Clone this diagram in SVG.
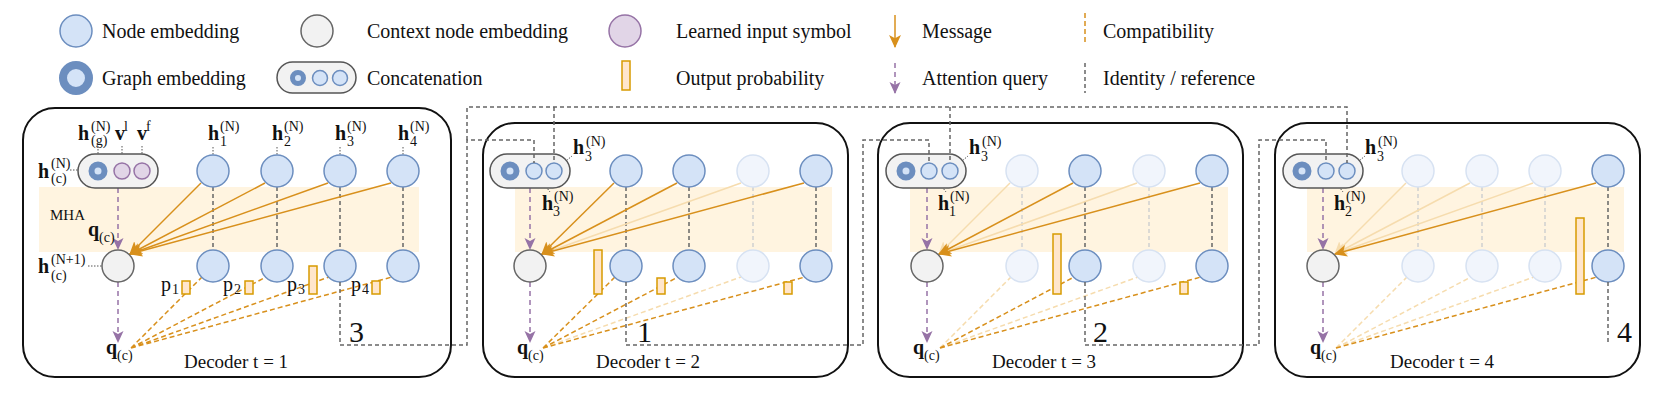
<svg xmlns="http://www.w3.org/2000/svg" width="1662" height="406" viewBox="0 0 1662 406">
<defs>
<style>
.t{font-family:"Liberation Serif","Times New Roman",serif;fill:#111}
.lg{font-size:20px}
.b{font-weight:bold;font-size:20px}
.s{font-size:14px}
.r{font-size:20px}
.dec{font-size:19px}
.big{font-size:30px}
.mha{font-size:15px}
.box{fill:#fff;stroke:#111;stroke-width:2}
.band{fill:#fff4e0}
.node{fill:#d4e3f7;stroke:#6c8ebf;stroke-width:1.5}
.fnode{fill:#f1f5fc;stroke:#d7e2f2;stroke-width:1.5}
.ctx{fill:#f2f2f2;stroke:#666;stroke-width:1.5}
.pill{fill:#f2f2f2;stroke:#555;stroke-width:1.5}
.ring{fill:#d4e3f7;stroke:#6c8ebf;stroke-width:6}
.sym{fill:#e1d5e7;stroke:#9673a6;stroke-width:1.5}
.bar{fill:#ffe6cc;stroke:#d79b00;stroke-width:1.5}
.msg{stroke:#d8901c;stroke-width:1.5;fill:none;marker-end:url(#mo)}
.fmsg{stroke:#f6dcae;stroke-width:1.5;fill:none;marker-end:url(#mof)}
.cmp{stroke:#d8901c;stroke-width:1.5;stroke-dasharray:5 3;fill:none}
.fcmp{stroke:#f6dcae;stroke-width:1.5;stroke-dasharray:5 3;fill:none}
.id{stroke:#666;stroke-width:1.5;stroke-dasharray:4 3;fill:none}
.fid{stroke:#cfcfcf;stroke-width:1.5;stroke-dasharray:4 3;fill:none}
.att{stroke:#9673a6;stroke-width:1.5;stroke-dasharray:5 4;fill:none;marker-end:url(#mp)}
.dot{stroke:#555;stroke-width:1;stroke-dasharray:1.5 1.5;fill:none}
</style>
<marker id="mo" viewBox="0 0 12 12" refX="11" refY="6" markerWidth="13" markerHeight="13" markerUnits="userSpaceOnUse" orient="auto"><path d="M0,0.5 L12,6 L0,11.5 L3,6 Z" fill="#d8901c"/></marker>
<marker id="mof" viewBox="0 0 12 12" refX="11" refY="6" markerWidth="13" markerHeight="13" markerUnits="userSpaceOnUse" orient="auto"><path d="M0,0.5 L12,6 L0,11.5 L3,6 Z" fill="#f6dcae"/></marker>
<marker id="mp" viewBox="0 0 12 12" refX="11" refY="6" markerWidth="12" markerHeight="12" markerUnits="userSpaceOnUse" orient="auto"><path d="M0,0.5 L12,6 L0,11.5 L3,6 Z" fill="#9673a6"/></marker>
</defs>
<rect width="1662" height="406" fill="#fff"/>

<g id="legend">
<g id="lg-node"><circle cx="76" cy="31" r="16" class="node"/><text x="102" y="38" class="t lg">Node embedding</text></g>
<g id="lg-graph"><circle cx="76" cy="78" r="13" fill="#d4e3f7" stroke="#6c8ebf" stroke-width="8"/><text x="102" y="85" class="t lg">Graph embedding</text></g>
<g id="lg-ctx"><circle cx="317" cy="31" r="16" class="ctx"/><text x="367" y="38" class="t lg">Context node embedding</text></g>
<g id="lg-concat"><rect x="277" y="62" width="79" height="31" rx="15.5" class="pill"/><circle cx="298" cy="78" r="5.5" fill="#d4e3f7" stroke="#6c8ebf" stroke-width="5"/><circle cx="320" cy="78" r="7.5" class="node"/><circle cx="340" cy="78" r="7.5" class="node"/><text x="367" y="85" class="t lg">Concatenation</text></g>
<g id="lg-sym"><circle cx="625" cy="31" r="16" class="sym"/><text x="676" y="38" class="t lg">Learned input symbol</text></g>
<g id="lg-prob"><rect x="622" y="61" width="8" height="29" class="bar"/><text x="676" y="85" class="t lg">Output probability</text></g>
<g id="lg-msg"><line x1="895" y1="15" x2="895" y2="47" class="msg"/><text x="922" y="38" class="t lg">Message</text></g>
<g id="lg-att"><line x1="895" y1="63" x2="895" y2="93" class="att"/><text x="922" y="85" class="t lg">Attention query</text></g>
<g id="lg-cmp"><line x1="1085" y1="13" x2="1085" y2="45" class="cmp" stroke-dasharray="4 3"/><text x="1103" y="38" class="t lg">Compatibility</text></g>
<g id="lg-id"><line x1="1085" y1="63" x2="1085" y2="93" class="id"/><text x="1103" y="85" class="t lg">Identity / reference</text></g>
</g>

<!-- ================= PANEL 1 ================= -->
<g id="panel1">
<rect x="23" y="108" width="428" height="269" rx="32" class="box"/>
<rect x="39" y="187" width="380" height="65" class="band"/>
<text x="50" y="220" class="t mha">MHA</text>
<g id="p1-connectors">
<path class="id" d="M213,187V250M277,187V250M340,187V250M403,187V250"/>
<path class="dot" d="M98,146V171M122,146V171M142,146V171M213,147V171M277,147V171M340,147V171M403,147V171M70,170H78M88,266H118"/>
<path class="cmp" d="M131,348L202,277M131,348L266,277M131,348L329,277M131,348L392,277"/>
<path class="msg" d="M201,183L130,254"/>
<path class="msg" d="M265,183L130,254"/>
<path class="msg" d="M328,183L130,254"/>
<path class="msg" d="M391,183L130,254"/>
<path class="att" d="M118,188V249"/>
<path class="att" d="M118,282V342"/>
</g>
<g id="p1-concat"><rect x="78" y="154" width="80" height="34" rx="17" class="pill"/><circle cx="98" cy="171" r="6.5" class="ring"/><circle cx="122" cy="171" r="8" class="sym"/><circle cx="142" cy="171" r="8" class="sym"/></g>
<g id="p1-n1"><circle cx="213" cy="171" r="16" class="node"/></g>
<g id="p1-n2"><circle cx="277" cy="171" r="16" class="node"/></g>
<g id="p1-n3"><circle cx="340" cy="171" r="16" class="node"/></g>
<g id="p1-n4"><circle cx="403" cy="171" r="16" class="node"/></g>
<g id="p1-ctx"><circle cx="118" cy="266" r="16" class="ctx"/></g>
<g id="p1-o1"><circle cx="213" cy="266" r="16" class="node"/></g>
<g id="p1-o2"><circle cx="277" cy="266" r="16" class="node"/></g>
<g id="p1-o3"><circle cx="340" cy="266" r="16" class="node"/></g>
<g id="p1-o4"><circle cx="403" cy="266" r="16" class="node"/></g>
<g id="p1-bars"><rect x="182" y="281" width="8" height="13" class="bar"/><rect x="245" y="281" width="8" height="13" class="bar"/><rect x="309" y="266" width="8" height="28" class="bar"/><rect x="372" y="281" width="8" height="13" class="bar"/></g>
<g id="p1-labels">
<text x="78" y="140" class="t b">h</text><text x="91" y="131" class="t s">(N)</text><text x="91" y="145" class="t s">(g)</text>
<text x="115" y="140" class="t b">v</text><text x="124" y="131" class="t s">l</text>
<text x="137" y="140" class="t b">v</text><text x="146" y="131" class="t s">f</text>
<text x="208" y="140" class="t b">h</text><text x="220" y="131" class="t s">(N)</text><text x="220" y="146" class="t s">1</text>
<text x="272" y="140" class="t b">h</text><text x="284" y="131" class="t s">(N)</text><text x="284" y="146" class="t s">2</text>
<text x="335" y="140" class="t b">h</text><text x="347" y="131" class="t s">(N)</text><text x="347" y="146" class="t s">3</text>
<text x="398" y="140" class="t b">h</text><text x="410" y="131" class="t s">(N)</text><text x="410" y="146" class="t s">4</text>
<text x="38" y="178" class="t b">h</text><text x="51" y="168" class="t s">(N)</text><text x="51" y="183" class="t s">(c)</text>
<text x="38" y="273" class="t b">h</text><text x="51" y="264" class="t s">(N+1)</text><text x="51" y="280" class="t s">(c)</text>
<text x="88" y="236" class="t b">q</text><text x="99" y="242" class="t s">(c)</text>
<text x="161" y="291" class="t r">p</text><text x="172" y="294" class="t s">1</text>
<text x="223" y="291" class="t r">p</text><text x="234" y="294" class="t s">2</text>
<text x="287" y="291" class="t r">p</text><text x="298" y="294" class="t s">3</text>
<text x="351" y="291" class="t r">p</text><text x="362" y="294" class="t s">4</text>
<text x="106" y="354" class="t b">q</text><text x="117" y="360" class="t s">(c)</text>
<text x="184" y="368" class="t dec">Decoder t = 1</text>
<text x="349" y="342" class="t big">3</text>
</g>
</g>

<!-- ================= PANEL 2 ================= -->
<g id="panel2">
<rect x="483" y="123" width="365" height="254" rx="32" class="box"/>
<rect x="515" y="187" width="317" height="65" class="band"/>
<g id="p2-connectors">
<path class="id" d="M626,187V250M689,187V250M816,187V250"/>
<path class="fid" d="M753,187V250"/>
<path class="dot" d="M555,170L572,156M535,172L550,192"/>
<path class="fcmp" d="M543,348L741,277"/>
<path class="cmp" d="M543,348L615,277M543,348L678,277M543,348L805,277"/>
<path class="fmsg" d="M741,183L542,254"/>
<path class="msg" d="M614,183L542,254"/>
<path class="msg" d="M677,183L542,254"/>
<path class="msg" d="M804,183L542,254"/>
<path class="att" d="M530,188V249"/>
<path class="att" d="M530,282V342"/>
</g>
<g id="p2-concat"><rect x="490" y="154" width="80" height="34" rx="17" class="pill"/><circle cx="510" cy="171" r="6.5" class="ring"/><circle cx="534" cy="171" r="8" class="node"/><circle cx="554" cy="171" r="8" class="node"/></g>
<g id="p2-n1"><circle cx="626" cy="171" r="16" class="node"/></g>
<g id="p2-n2"><circle cx="689" cy="171" r="16" class="node"/></g>
<g id="p2-n3"><circle cx="753" cy="171" r="16" class="fnode"/></g>
<g id="p2-n4"><circle cx="816" cy="171" r="16" class="node"/></g>
<g id="p2-ctx"><circle cx="530" cy="266" r="16" class="ctx"/></g>
<g id="p2-o1"><circle cx="626" cy="266" r="16" class="node"/></g>
<g id="p2-o2"><circle cx="689" cy="266" r="16" class="node"/></g>
<g id="p2-o3"><circle cx="753" cy="266" r="16" class="fnode"/></g>
<g id="p2-o4"><circle cx="816" cy="266" r="16" class="node"/></g>
<g id="p2-bars"><rect x="594" y="250" width="8" height="44" class="bar"/><rect x="657" y="278" width="8" height="16" class="bar"/><rect x="784" y="282" width="8" height="12" class="bar"/></g>
<g id="p2-labels">
<text x="573" y="154" class="t b">h</text><text x="586" y="146" class="t s">(N)</text><text x="585" y="161" class="t s">3</text>
<text x="542" y="210" class="t b">h</text><text x="554" y="201" class="t s">(N)</text><text x="553" y="216" class="t s">3</text>
<text x="517" y="354" class="t b">q</text><text x="528" y="360" class="t s">(c)</text>
<text x="596" y="368" class="t dec">Decoder t = 2</text>
<text x="637" y="342" class="t big">1</text>
</g>
</g>

<!-- ================= PANEL 3 ================= -->
<g id="panel3">
<rect x="878" y="123" width="365" height="254" rx="32" class="box"/>
<rect x="910" y="187" width="318" height="65" class="band"/>
<g id="p3-connectors">
<path class="id" d="M1085,187V250M1212,187V250"/>
<path class="fid" d="M1022,187V250M1149,187V250"/>
<path class="dot" d="M951,170L968,156M931,172L946,192"/>
<path class="fcmp" d="M940,348L1011,277M940,348L1138,277"/>
<path class="cmp" d="M940,348L1074,277M940,348L1201,277"/>
<path class="fmsg" d="M1010,183L939,254"/>
<path class="fmsg" d="M1137,183L939,254"/>
<path class="msg" d="M1073,183L939,254"/>
<path class="msg" d="M1200,183L939,254"/>
<path class="att" d="M927,188V249"/>
<path class="att" d="M927,282V342"/>
</g>
<g id="p3-concat"><rect x="886" y="154" width="80" height="34" rx="17" class="pill"/><circle cx="906" cy="171" r="6.5" class="ring"/><circle cx="929" cy="171" r="8" class="node"/><circle cx="950" cy="171" r="8" class="node"/></g>
<g id="p3-n1"><circle cx="1022" cy="171" r="16" class="fnode"/></g>
<g id="p3-n2"><circle cx="1085" cy="171" r="16" class="node"/></g>
<g id="p3-n3"><circle cx="1149" cy="171" r="16" class="fnode"/></g>
<g id="p3-n4"><circle cx="1212" cy="171" r="16" class="node"/></g>
<g id="p3-ctx"><circle cx="927" cy="266" r="16" class="ctx"/></g>
<g id="p3-o1"><circle cx="1022" cy="266" r="16" class="fnode"/></g>
<g id="p3-o2"><circle cx="1085" cy="266" r="16" class="node"/></g>
<g id="p3-o3"><circle cx="1149" cy="266" r="16" class="fnode"/></g>
<g id="p3-o4"><circle cx="1212" cy="266" r="16" class="node"/></g>
<g id="p3-bars"><rect x="1053" y="234" width="8" height="60" class="bar"/><rect x="1180" y="282" width="8" height="12" class="bar"/></g>
<g id="p3-labels">
<text x="969" y="154" class="t b">h</text><text x="982" y="146" class="t s">(N)</text><text x="981" y="161" class="t s">3</text>
<text x="938" y="210" class="t b">h</text><text x="950" y="201" class="t s">(N)</text><text x="949" y="216" class="t s">1</text>
<text x="913" y="354" class="t b">q</text><text x="924" y="360" class="t s">(c)</text>
<text x="992" y="368" class="t dec">Decoder t = 3</text>
<text x="1093" y="342" class="t big">2</text>
</g>
</g>

<!-- ================= PANEL 4 ================= -->
<g id="panel4">
<rect x="1275" y="123" width="365" height="254" rx="32" class="box"/>
<rect x="1307" y="187" width="317" height="65" class="band"/>
<g id="p4-connectors">
<path class="id" d="M1608,187V250"/>
<path class="fid" d="M1418,187V250M1482,187V250M1545,187V250"/>
<path class="dot" d="M1348,170L1365,156M1328,172L1343,192"/>
<path class="fcmp" d="M1336,348L1407,277M1336,348L1471,277M1336,348L1534,277"/>
<path class="cmp" d="M1336,348L1597,277"/>
<path class="fmsg" d="M1406,183L1335,254"/>
<path class="fmsg" d="M1470,183L1335,254"/>
<path class="fmsg" d="M1533,183L1335,254"/>
<path class="msg" d="M1596,183L1335,254"/>
<path class="att" d="M1323,188V249"/>
<path class="att" d="M1323,282V342"/>
</g>
<g id="p4-concat"><rect x="1283" y="154" width="80" height="34" rx="17" class="pill"/><circle cx="1302" cy="171" r="6.5" class="ring"/><circle cx="1326" cy="171" r="8" class="node"/><circle cx="1347" cy="171" r="8" class="node"/></g>
<g id="p4-n1"><circle cx="1418" cy="171" r="16" class="fnode"/></g>
<g id="p4-n2"><circle cx="1482" cy="171" r="16" class="fnode"/></g>
<g id="p4-n3"><circle cx="1545" cy="171" r="16" class="fnode"/></g>
<g id="p4-n4"><circle cx="1608" cy="171" r="16" class="node"/></g>
<g id="p4-ctx"><circle cx="1323" cy="266" r="16" class="ctx"/></g>
<g id="p4-o1"><circle cx="1418" cy="266" r="16" class="fnode"/></g>
<g id="p4-o2"><circle cx="1482" cy="266" r="16" class="fnode"/></g>
<g id="p4-o3"><circle cx="1545" cy="266" r="16" class="fnode"/></g>
<g id="p4-o4"><circle cx="1608" cy="266" r="16" class="node"/></g>
<g id="p4-bars"><rect x="1576" y="218" width="8" height="76" class="bar"/></g>
<g id="p4-labels">
<text x="1365" y="154" class="t b">h</text><text x="1378" y="146" class="t s">(N)</text><text x="1377" y="161" class="t s">3</text>
<text x="1334" y="210" class="t b">h</text><text x="1346" y="201" class="t s">(N)</text><text x="1345" y="216" class="t s">2</text>
<text x="1310" y="354" class="t b">q</text><text x="1321" y="360" class="t s">(c)</text>
<text x="1390" y="368" class="t dec">Decoder t = 4</text>
<text x="1617" y="342" class="t big">4</text>
</g>
</g>

<!-- ============ cross-panel identity connectors ============ -->
<g id="connectors">
<path class="id" d="M340,282V345H467V140H534V163"/>
<path class="id" d="M467,140V107H1347V163"/>
<path class="id" d="M554,107V163"/>
<path class="id" d="M950,107V163"/>
<path class="id" d="M626,282V345H863V140H929V163"/>
<path class="id" d="M1085,282V345H1259V140H1326V163"/>
<path class="id" d="M1608,282V345"/>
</g>
</svg>
